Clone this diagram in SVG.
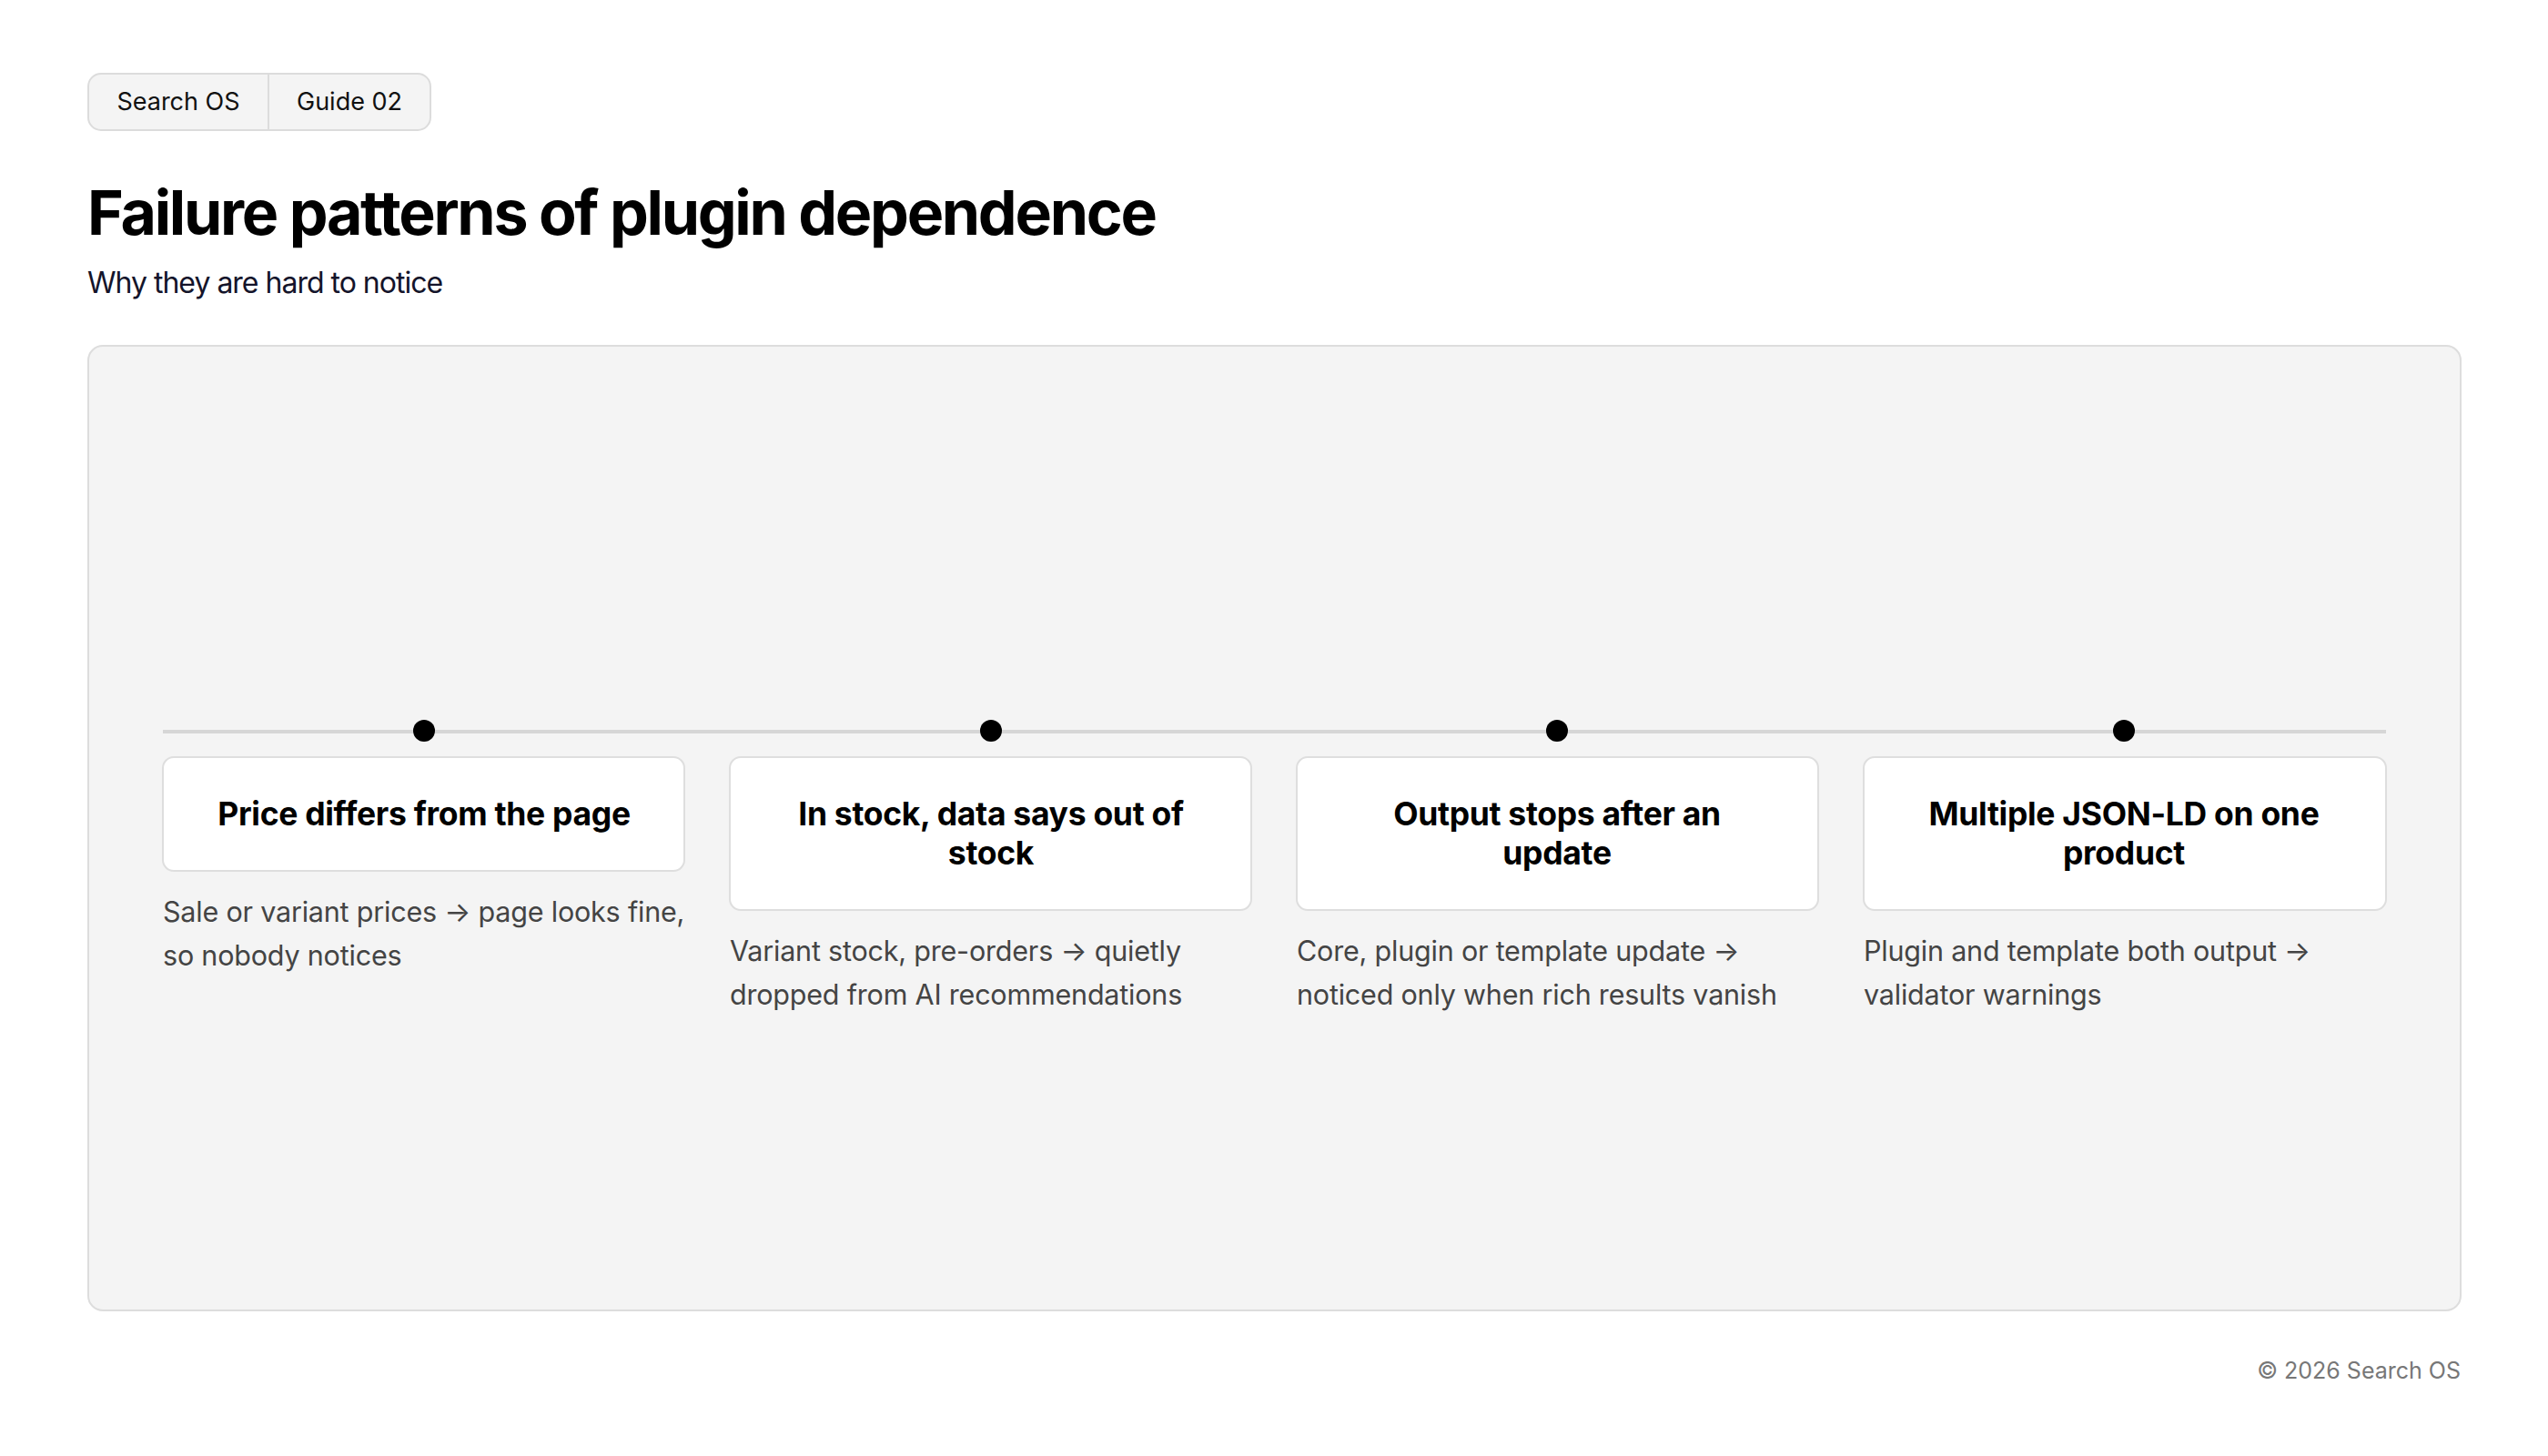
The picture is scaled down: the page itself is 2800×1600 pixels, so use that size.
<svg xmlns="http://www.w3.org/2000/svg" width="2800" height="1600" viewBox="0 0 2800 1600">
<style>
text{font-family:Inter,"Liberation Sans",sans-serif}
.tab{font-size:27px;fill:#111}
.card{fill:#fff;stroke:#dedede;stroke-width:2}
.ct{font-size:35.5px;font-weight:700;fill:#000;text-anchor:middle;letter-spacing:-0.3px}
.cd{font-size:30.5px;fill:#444;letter-spacing:-0.2px}
.dot{fill:#000}
</style>
<rect width="2800" height="1600" fill="#fff"/>
<g id="tabs">
<rect x="97" y="81" width="376" height="62" rx="14" fill="#f4f4f4" stroke="#dcdcdc" stroke-width="2"/>
<line x1="295" y1="81" x2="295" y2="143" stroke="#dcdcdc" stroke-width="2"/>
<text class="tab" x="196" y="121" text-anchor="middle">Search OS</text>
<text class="tab" x="384" y="121" text-anchor="middle">Guide 02</text>
</g>
<text x="96" y="258" font-size="68" font-weight="700" fill="#000" letter-spacing="-2.3">Failure patterns of plugin dependence</text>
<text x="96" y="322" font-size="32" fill="#14142a" letter-spacing="-1">Why they are hard to notice</text>
<rect id="panel" x="97" y="380" width="2607" height="1060" rx="16" fill="#f4f4f4" stroke="#dddddd" stroke-width="2"/>
<g id="connectors">
<line x1="179" y1="804" x2="2622" y2="804" stroke="#d6d6d6" stroke-width="4"/>
</g>
<g id="n1">
<circle class="dot" cx="466" cy="803" r="12"/>
<rect class="card" x="179" y="832" width="573" height="125" rx="12"/>
<text class="ct" x="466" y="907">Price differs from the page</text>
<text class="cd" x="179" y="1013">Sale or variant prices → page looks fine,</text>
<text class="cd" x="179" y="1061">so nobody notices</text>
</g>
<g id="n2">
<circle class="dot" cx="1089" cy="803" r="12"/>
<rect class="card" x="802" y="832" width="573" height="168" rx="12"/>
<text class="ct" x="1089" y="907">In stock, data says out of</text>
<text class="ct" x="1089" y="950">stock</text>
<text class="cd" x="802" y="1056">Variant stock, pre-orders → quietly</text>
<text class="cd" x="802" y="1104">dropped from AI recommendations</text>
</g>
<g id="n3">
<circle class="dot" cx="1711" cy="803" r="12"/>
<rect class="card" x="1425" y="832" width="573" height="168" rx="12"/>
<text class="ct" x="1711" y="907">Output stops after an</text>
<text class="ct" x="1711" y="950">update</text>
<text class="cd" x="1425" y="1056">Core, plugin or template update →</text>
<text class="cd" x="1425" y="1104">noticed only when rich results vanish</text>
</g>
<g id="n4">
<circle class="dot" cx="2334" cy="803" r="12"/>
<rect class="card" x="2048" y="832" width="574" height="168" rx="12"/>
<text class="ct" x="2334" y="907">Multiple JSON-LD on one</text>
<text class="ct" x="2334" y="950">product</text>
<text class="cd" x="2048" y="1056">Plugin and template both output →</text>
<text class="cd" x="2048" y="1104">validator warnings</text>
</g>
<text x="2704" y="1515" font-size="25" fill="#777" text-anchor="end">© 2026 Search OS</text>
</svg>
